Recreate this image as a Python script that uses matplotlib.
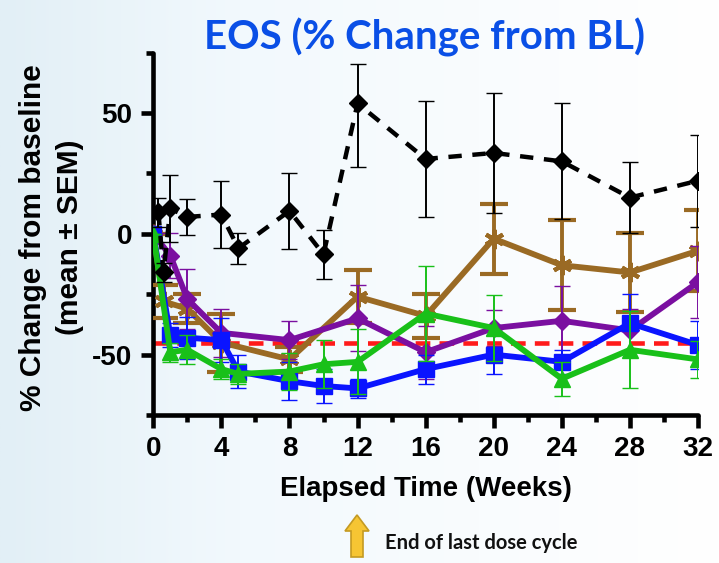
import numpy as np
import matplotlib
matplotlib.use("Agg")
import matplotlib.pyplot as plt
from matplotlib.patches import Polygon

# ---- data (weeks, % change from baseline, SEM) ----
black_x = [0.3, 0.6, 1, 2, 4, 5, 8, 10, 12, 16, 20, 24, 28, 32]
black_y = [9, -16, 10.5, 7, 8, -6, 9.5, -8.5, 54, 31, 33.5, 30, 15, 22]
black_lo = [6, 4, 14, 7.5, 14, 6.5, 15.7, 10, 26.5, 24, 25, 24, 14.6, 19]
black_hi = [6, 4, 14, 7.5, 14, 6.5, 15.7, 10, 16.5, 24, 25, 24, 14.6, 19]

brown_x = [0, 0.6, 2, 4, 8, 12, 16, 20, 24, 28, 32]
brown_y = [0, -28, -31, -45, -52, -26, -34, -2, -13, -16, -7]
brown_e = [0, 7, 6, 12, 5, 11, 9, 14.5, 18.7, 16.5, 16.8]

purple_x = [0, 1, 2, 4, 8, 12, 16, 20, 24, 28, 32]
purple_y = [0, -9, -27, -41, -44, -35, -49, -39, -36, -40, -20]
purple_e = [0, 9.3, 12.5, 10, 8, 13.7, 11, 7.5, 14.5, 9, 15]

blue_x = [0, 1, 2, 4, 5, 8, 10, 12, 16, 20, 24, 28, 32]
blue_y = [0, -42, -43, -44, -57, -61, -63, -64, -56, -50, -53, -37, -46]
blue_e = [0, 5, 8.7, 9, 7, 8, 7, 4, 6, 8, 5, 12, 10]

green_x = [0, 1, 2, 4, 5, 8, 10, 12, 16, 20, 24, 28, 32]
green_y = [0, -49, -48, -56, -58, -57, -54, -53, -33, -39, -60, -48, -52]
green_e = [0, 4, 6, 4, 4, 7.7, 10, 13.5, 19.7, 13.5, 7, 16, 7.5]

ref_level = -45
x_ticks = [0, 4, 8, 12, 16, 20, 24, 28, 32]
y_ticks = [-50, 0, 50]
y_ticklabels = ["-50", "0", "50"]

label_font = "Liberation Sans"
geo = "Lato"

fig = plt.figure(figsize=(7.19, 5.63), dpi=100)
fig.patch.set_facecolor("#f8fcfe")

# soft blue wash on the left side of the page
grad = np.linspace(0, 1, 256)[None, :]
bg = fig.add_axes([0, 0, 1, 1], zorder=-10)
bg.imshow(np.repeat(grad, 2, axis=0), cmap=matplotlib.colors.LinearSegmentedColormap.from_list(
    "wash", ["#e2eff6", "#f2f9fd", "#f9fcfe", "#ffffff"]), aspect="auto", extent=[0, 1, 0, 1])
bg.axis("off")

ax = fig.add_axes([0.2132, 0.2629, 0.7576, 0.6435])
ax.set_facecolor("none")

ax.plot([0, 32], [ref_level, ref_level], color="#ff1a1a", lw=3.3, dashes=(3.2, 2.0), zorder=2)

def series(x, y, e, color, marker, ms, lw, elw, cap, capth, z, mew=1, dashes=None):
    eb = ax.errorbar(x, y, yerr=e, color=color, ecolor=color, elinewidth=elw, capsize=cap,
                     capthick=capth, marker=marker, markersize=ms, lw=lw,
                     markeredgewidth=mew, zorder=z)
    if dashes is not None:
        eb.lines[0].set_dashes(dashes)
    return eb

series(brown_x, brown_y, brown_e, "#9a6a24", (6, 2, 0), 14, 4.2, 2.8, 10, 3.4, 3, mew=3)
series(purple_x, purple_y, purple_e, "#7a0fa0", "D", 9, 4.2, 1.4, 6, 1.4, 4)
series(blue_x, blue_y, blue_e, "#0a14ff", "s", 11, 4.2, 1.4, 6, 1.4, 5)
series(green_x, green_y, green_e, "#19c019", "^", 11, 4.2, 1.4, 6, 1.4, 6)
series(black_x, black_y, [black_lo, black_hi], "black", "D", 9, 3.2, 1.4, 5.5, 1.4, 7,
       dashes=(3, 2.4))

ax.set_xlim(0, 32)
ax.set_ylim(-75, 75)
for s in ["top", "right"]:
    ax.spines[s].set_visible(False)
for s in ["left", "bottom"]:
    ax.spines[s].set_linewidth(3.3)
    ax.spines[s].set_capstyle("round")

ax.set_xticks(x_ticks)
ax.set_xticks(np.arange(2, 32, 4), minor=True)
ax.set_yticks(y_ticks)
ax.set_yticklabels(y_ticklabels)
ax.set_yticks([-75, -25, 25, 75], minor=True)
ax.tick_params(which="major", length=9, width=3.3, pad=6)
ax.tick_params(which="minor", length=5, width=3.3)
for lab in ax.get_xticklabels() + ax.get_yticklabels():
    lab.set_fontfamily(label_font)
    lab.set_fontweight("bold")
    lab.set_fontsize(20)

ax.set_xlabel("Elapsed Time (Weeks)", fontfamily=label_font, fontweight="bold",
              fontsize=20, labelpad=10)
ax.set_ylabel("% Change from baseline\n(mean \u00b1 SEM)", fontfamily=label_font,
              fontweight="bold", fontsize=21.5, linespacing=1.4)
ax.yaxis.set_label_coords(-0.128, 0.49)

fig.text(0.591, 0.933, "EOS (% Change from BL)", ha="center", va="center", color="#0a4fe6",
         fontfamily=geo, fontweight="bold", fontsize=29)

# annotation arrow below the axis
W, H = 719, 563
px = [(351, 557), (363, 557), (363, 531), (369, 531), (357, 515), (345, 531), (351, 531)]
arrow = Polygon([(x / W, 1 - y / H) for x, y in px], closed=True, transform=fig.transFigure,
                facecolor="#f6c533", edgecolor="#c49a22", lw=1.2)
fig.patches.append(arrow)
fig.text(385 / W, 1 - 543 / H, "End of last dose cycle", ha="left", va="center",
         fontfamily=geo, fontweight="bold", fontsize=14.5, color="#111111")

fig.savefig("out.png", dpi=100)
